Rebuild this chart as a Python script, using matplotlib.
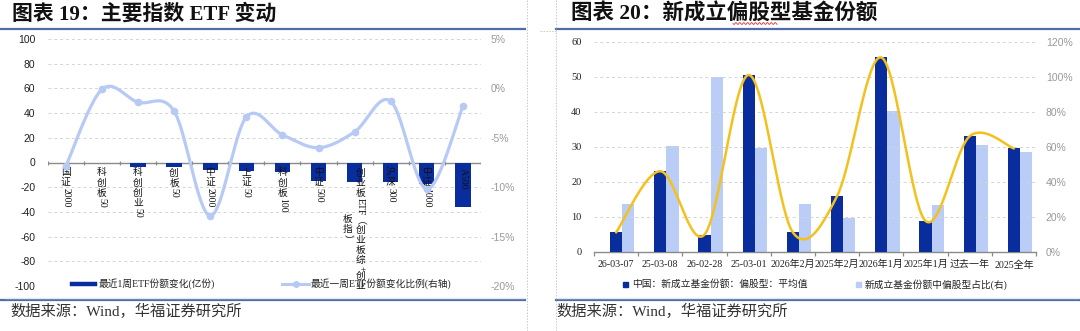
import numpy as np
import matplotlib
matplotlib.use("Agg")
import matplotlib.pyplot as plt
from matplotlib.lines import Line2D
from matplotlib.patches import Rectangle
from matplotlib.textpath import TextPath
from matplotlib.font_manager import FontProperties

# ---------------- data ----------------
etf_names = ['国证2000', '科创板50', '科创创业50', '创板50', '中证2000', '上证50',
             '科创板100', '中证500', '创业板ETF（创业板综+创业板指）', '沪深300', '中证1000', 'A500']
etf_share_change = [-0.3, -0.5, -4, -4, -6, -7, -8, -15, -15.5, -15.5, -17.5, -36]      # 亿份
etf_change_pct = [-7.9, -0.1, -1.4, -2.3, -12.9, -2.9, -4.7, -6.0, -4.4, -1.3, -10.2, -1.8]  # %

fund_periods = ['26-03-07', '25-03-08', '26-02-28', '25-03-01', '2026年2月', '2025年2月',
                '2026年1月', '2025年1月', '过去一年', '2025全年']
fund_avg_share = [5.5, 23.0, 4.9, 50.5, 5.5, 15.9, 55.5, 8.8, 33.0, 29.5]
fund_equity_ratio = [27.4, 60.6, 100.0, 59.1, 27.4, 19.1, 80.2, 26.9, 60.8, 56.8]   # %

# ---------------- style ----------------
W, H = 1080, 331
DARK = '#0a2d9e'
LIGHT = '#b9cdf7'
LINE_LIGHT = '#b7c9f5'
YELLOW = '#f4c11c'
RULE = '#4f6ea6'
GRID = '#d4d4d4'
CJK = 'Noto Sans CJK SC'
SANS = ['Liberation Sans', CJK]
SERIF = ['Liberation Serif', CJK]
plt.rcParams['font.family'] = SANS

fig = plt.figure(figsize=(W / 100, H / 100), dpi=100)


def rect(l, t, r, b):
    return [l / W, 1 - b / H, (r - l) / W, (b - t) / H]


def smooth(x, y, n=40):
    p = np.column_stack([np.asarray(x, float), np.asarray(y, float)])
    out = []
    for i in range(len(p) - 1):
        p0 = p[i - 1] if i > 0 else p[i]
        p1, p2 = p[i], p[i + 1]
        p3 = p[i + 2] if i + 2 < len(p) else p[i + 1]
        c1 = p1 + (p2 - p0) / 6
        c2 = p2 - (p3 - p1) / 6
        t = np.linspace(0, 1, n)[:, None]
        seg = (1 - t) ** 3 * p1 + 3 * (1 - t) ** 2 * t * c1 + 3 * (1 - t) * t ** 2 * c2 + t ** 3 * p2
        out.append(seg if i == 0 else seg[1:])
    s = np.vstack(out)
    return s[:, 0], s[:, 1]


# ---------------- page decorations ----------------
def hline(y, x0, x1, **kw):
    fig.add_artist(Line2D([x0 / W, x1 / W], [1 - y / H, 1 - y / H], transform=fig.transFigure, **kw))


def vline(x, y0, y1, **kw):
    fig.add_artist(Line2D([x / W, x / W], [1 - y0 / H, 1 - y1 / H], transform=fig.transFigure, **kw))


hline(29, 0, 525, color=RULE, lw=1.6)
hline(29, 556, 1080, color=RULE, lw=1.6)
hline(300, 0, 525, color=RULE, lw=1.6)
hline(300, 556, 1080, color=RULE, lw=1.6)
hline(297.5, 5, 524, color='#e3eaf7', lw=1.0)
hline(297.5, 558, 1078, color='#e3eaf7', lw=1.0)
vline(527, 0, 331, color='#c8c8c8', lw=0.7, ls=(0, (1.5, 1.5)))
vline(556.5, 0, 331, color='#c8c8c8', lw=0.7, ls=(0, (1.5, 1.5)))
hline(30.5, 540, 556, color='#c8c8c8', lw=0.7, ls=(0, (1.5, 1.5)))

fig.text(12 / W, 1 - 14 / H, '图表 19：主要指数 ETF 变动', family=SERIF, weight='bold',
         fontsize=15, va='center', ha='left', color='#111111')
fig.text(571 / W, 1 - 14 / H, '图表 20：新成立偏股型基金份额', family=SERIF, weight='bold',
         fontsize=15.5, va='center', ha='left', color='#111111')
# spell-check wavy underline
wx = np.linspace(733, 777, 120)
wy = 23.5 + 0.9 * np.sin((wx - 733) * 1.6)
fig.add_artist(Line2D(wx / W, 1 - wy / H, transform=fig.transFigure, color='#e03030', lw=0.6))

fig.text(10 / W, 1 - 311 / H, '数据来源：Wind，华福证券研究所', family=SERIF, fontsize=11,
         va='center', ha='left', color='#333333')
fig.text(556 / W, 1 - 311 / H, '数据来源：Wind，华福证券研究所', family=SERIF, fontsize=11,
         va='center', ha='left', color='#333333')

# ---------------- left chart ----------------
ax = fig.add_axes(rect(47.7, 39, 481, 286))
n1 = len(etf_names)
x1 = np.arange(n1)
ax.set_xlim(-0.5, n1 - 0.5)
ax.set_ylim(-100, 100)
ax.set_yticks(np.arange(-100, 101, 20))
ax.set_yticklabels([str(v) for v in range(-100, 101, 20)])
for v in range(-100, 101, 20):
    if v != 0:
        ax.axhline(v, color=GRID, lw=0.7, ls=(0, (3, 3)), zorder=0)
ax.axhline(0, color='#8a8a8a', lw=1.0, zorder=2)
ax.vlines(np.arange(-0.5, n1, 1.0), -2.2, 1.6, color='#8a8a8a', lw=0.9, zorder=2)
ax.bar(x1, etf_share_change, width=0.42, color=DARK, zorder=3)
for s in ax.spines.values():
    s.set_visible(False)
ax.set_xticks([])
ax.tick_params(axis='y', length=0, pad=9, labelsize=7.5, labelcolor='#222222')

ax2 = ax.twinx()
ax2.set_ylim(-20, 5)
ax2.set_yticks(np.arange(-20, 6, 5))
ax2.set_yticklabels([f'{v}%' for v in range(-20, 6, 5)])
ax2.tick_params(axis='y', length=0, pad=7, labelsize=7.5, labelcolor='#999999')
for s in ax2.spines.values():
    s.set_visible(False)
sx, sy = smooth(x1, etf_change_pct)
ax2.plot(sx, sy, color=LINE_LIGHT, lw=2.3, zorder=4, solid_capstyle='round')
ax2.plot(x1, etf_change_pct, 'o', color=LINE_LIGHT, ms=4.5, zorder=4)

# vertical category labels (CJK upright, Latin runs rotated)
LBL_FS = 7.0
CJK_ADV = 10.0
px2pt = 0.72


def is_upright(ch):
    return 0x4E00 <= ord(ch) <= 0x9FFF


def runs_of(label):
    runs = []
    for ch in label:
        up = is_upright(ch)
        if runs and not up and not runs[-1][1]:
            runs[-1][0] += ch
        else:
            runs.append([ch, up])
    return runs


fp_serif = FontProperties(family='Liberation Serif', size=LBL_FS)
fp_cjk = FontProperties(family=CJK, size=LBL_FS)


def vertical_label(axis, xdata, text, top_px, dx_px=0.0):
    y = top_px
    for seg, up in runs_of(text):
        if up:
            axis.annotate(seg, xy=(xdata, 0), xycoords=('data', 'data'),
                          xytext=(dx_px * px2pt, -y * px2pt), textcoords='offset points',
                          ha='center', va='top', fontsize=LBL_FS, family=CJK,
                          color='#111111', zorder=6, annotation_clip=False)
            y += CJK_ADV
        else:
            ascii_part = all(ord(c) < 128 for c in seg)
            fp = fp_serif if ascii_part else fp_cjk
            wpt = TextPath((0, 0), seg, prop=fp).get_extents().width
            axis.annotate(seg, xy=(xdata, 0), xycoords=('data', 'data'),
                          xytext=(dx_px * px2pt, -(y + 1) * px2pt), textcoords='offset points',
                          ha='center', va='top', rotation=-90, fontsize=LBL_FS, family=SERIF,
                          color='#111111', zorder=6, annotation_clip=False)
            y += wpt / px2pt + 2


for i, name in enumerate(etf_names):
    if '（' in name:
        col1 = name[:name.index('（') + 1] + '创业板综+创业'
        col2 = name[len(col1):]
        vertical_label(ax, x1[i], col1, 5, dx_px=6)
        vertical_label(ax, x1[i], col2, 51, dx_px=-7)
    else:
        vertical_label(ax, x1[i], name, 5)

# left legend (manual)
hline(284, 72, 95, color=DARK, lw=3.2)
fig.text(99 / W, 1 - 284 / H, '最近1周ETF份额变化(亿份)', fontsize=7, family=SERIF,
         va='center', ha='left', color='#222222')
hline(284, 282, 309, color=LINE_LIGHT, lw=2.2)
fig.add_artist(Line2D([295.5 / W], [1 - 284 / H], transform=fig.transFigure, marker='o',
                      color=LINE_LIGHT, ms=4))
fig.text(311 / W, 1 - 284 / H, '最近一周ETF份额变化比例(右轴)', fontsize=7, family=SERIF,
         va='center', ha='left', color='#222222')

# ---------------- right chart ----------------
bx = fig.add_axes(rect(594, 41.7, 1036, 251.7))
n2 = len(fund_periods)
x2 = np.arange(n2)
bw = 0.275
bx.set_xlim(-0.5, n2 - 0.5)
bx.set_ylim(0, 60)
bx.set_yticks(np.arange(0, 61, 10))
for v in range(10, 61, 10):
    bx.axhline(v, color=GRID, lw=0.7, ls=(0, (3, 3)), zorder=0)
for s in ['top', 'right', 'left']:
    bx.spines[s].set_visible(False)
bx.spines['bottom'].set_color('#8a8a8a')
bx.spines['bottom'].set_linewidth(1.0)
bx.bar(x2, fund_avg_share, width=bw, color=DARK, zorder=3)
bx.set_xticks(x2)
bx.set_xticklabels(fund_periods, family=SERIF, fontsize=7.2, color='#222222')
bx.set_xticks(np.arange(-0.5, n2, 1.0), minor=True)
bx.tick_params(axis='x', which='major', length=0, pad=6)
bx.tick_params(axis='x', which='minor', length=3, width=0.9, color='#8a8a8a', direction='out')
bx.tick_params(axis='y', length=0, pad=9, labelsize=7.5, labelcolor='#222222')
for t in bx.get_yticklabels():
    t.set_family(SERIF)

bx2 = bx.twinx()
bx2.set_ylim(0, 120)
bx2.set_yticks(np.arange(0, 121, 20))
bx2.set_yticklabels([f'{v}%' for v in range(0, 121, 20)])
bx2.tick_params(axis='y', length=0, pad=7, labelsize=7.5, labelcolor='#999999')
for s in bx2.spines.values():
    s.set_visible(False)
bx2.bar(x2 + bw, fund_equity_ratio, width=bw, color=LIGHT, zorder=2)
cx, cy = smooth(x2, fund_avg_share)
bx.plot(cx, cy, color=YELLOW, lw=1.8, zorder=5, solid_capstyle='round')
bx.set_zorder(bx2.get_zorder() + 1)
bx.patch.set_visible(False)

# right legend (manual)
fig.add_artist(Rectangle((623 / W, 1 - 287 / H), 5 / W, 5 / H, transform=fig.transFigure,
                         color=DARK))
fig.text(632 / W, 1 - 284.5 / H, '中国：新成立基金份额：偏股型：平均值', fontsize=7, family=SERIF,
         va='center', ha='left', color='#222222')
fig.add_artist(Rectangle((856 / W, 1 - 287 / H), 5 / W, 5 / H, transform=fig.transFigure,
                         color=LIGHT))
fig.text(865 / W, 1 - 284.5 / H, '新成立基金份额中偏股型占比(右)', fontsize=7, family=SERIF,
         va='center', ha='left', color='#222222')

fig.savefig('out.png', dpi=100)
